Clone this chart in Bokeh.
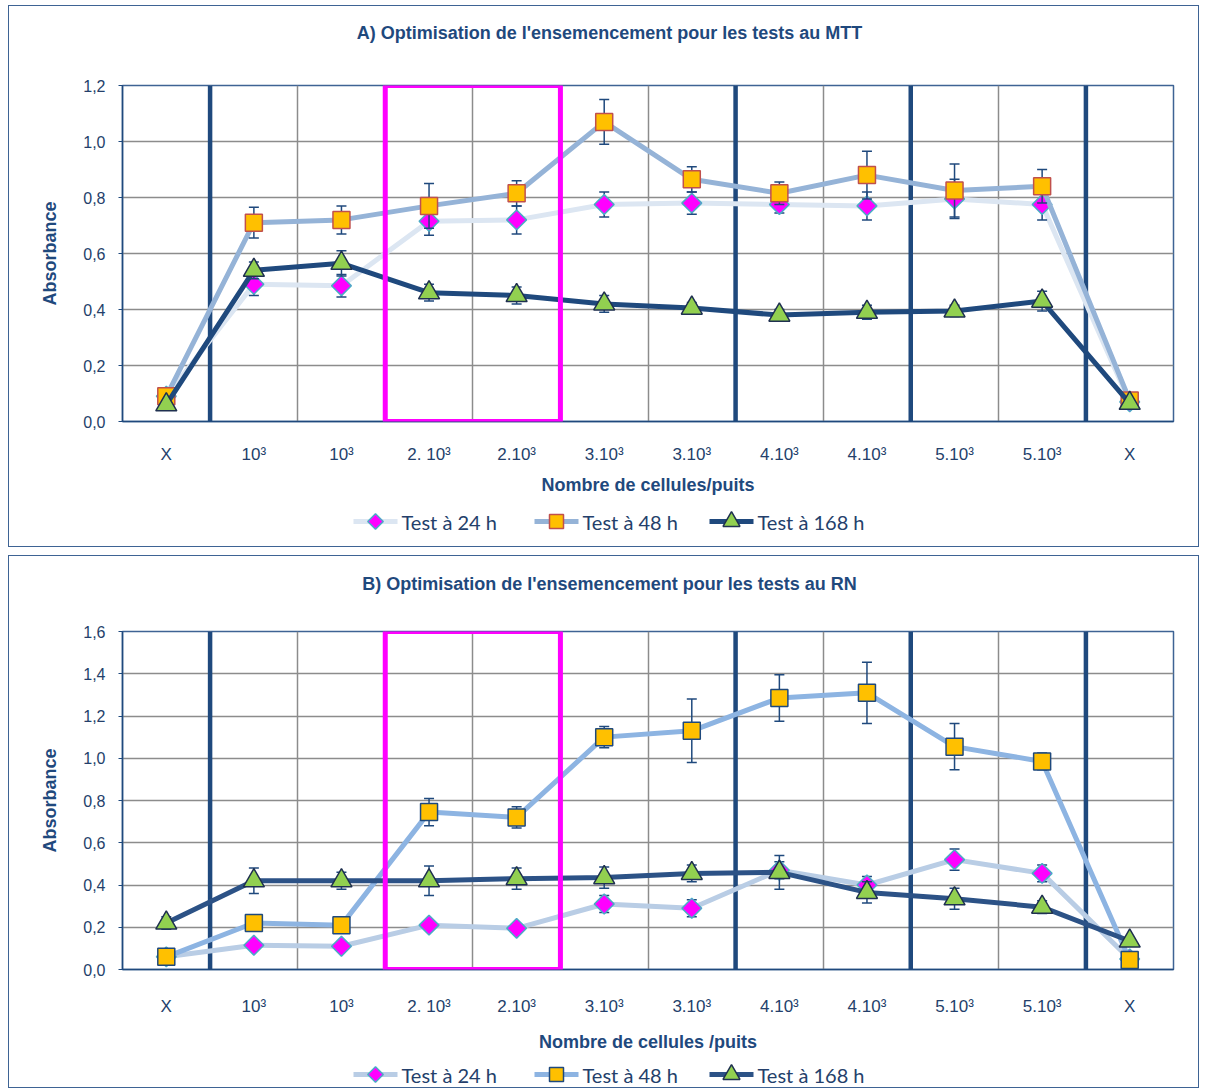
import math
from bokeh.plotting import figure
from bokeh.layouts import column, row
from bokeh.models import Range1d, FixedTicker, Whisker, BoxAnnotation, ColumnDataSource, Spacer
from bokeh.core.properties import value
from bokeh.embed import file_html
from bokeh.resources import INLINE

# ---------------- data ----------------
categories = ["X", "10³", "10³", "2. 10³", "2.10³", "3.10³", "3.10³",
              "4.10³", "4.10³", "5.10³", "5.10³", "X"]
series_names = ["Test à 24 h", "Test à 48 h", "Test à 168 h"]

# A) MTT
mtt_24 = [0.09, 0.49, 0.485, 0.715, 0.72, 0.775, 0.78, 0.775, 0.77, 0.795, 0.775, 0.07]
mtt_24_err = [0.0, 0.04, 0.04, 0.05, 0.05, 0.045, 0.04, 0.03, 0.05, 0.07, 0.055, 0.0]
mtt_48 = [0.09, 0.71, 0.72, 0.77, 0.815, 1.07, 0.865, 0.815, 0.88, 0.825, 0.84, 0.075]
mtt_48_err = [0.0, 0.055, 0.05, 0.08, 0.045, 0.08, 0.045, 0.04, 0.085, 0.095, 0.06, 0.0]
mtt_168 = [0.06, 0.54, 0.565, 0.46, 0.45, 0.42, 0.405, 0.38, 0.39, 0.395, 0.43, 0.065]
mtt_168_err = [0.0, 0.03, 0.045, 0.03, 0.03, 0.03, 0.02, 0.02, 0.025, 0.02, 0.035, 0.0]

# B) RN
rn_24 = [0.06, 0.115, 0.11, 0.21, 0.195, 0.31, 0.29, 0.47, 0.40, 0.52, 0.455, 0.05]
rn_24_err = [0.0, 0.0, 0.0, 0.0, 0.0, 0.04, 0.04, 0.04, 0.04, 0.05, 0.04, 0.0]
rn_48 = [0.06, 0.22, 0.21, 0.745, 0.72, 1.10, 1.13, 1.285, 1.31, 1.055, 0.985, 0.045]
rn_48_err = [0.0, 0.0, 0.0, 0.065, 0.05, 0.05, 0.15, 0.11, 0.145, 0.11, 0.04, 0.0]
rn_168 = [0.22, 0.42, 0.42, 0.42, 0.43, 0.435, 0.455, 0.46, 0.365, 0.335, 0.295, 0.135]
rn_168_err = [0.03, 0.06, 0.04, 0.07, 0.05, 0.05, 0.04, 0.08, 0.05, 0.05, 0.03, 0.0]

separators = [1, 7, 9, 11]      # category boundaries drawn as thick lines
highlight = (3, 5)              # boxed categories

NAVY = "#1F497D"
TEXT = "#243F6B"
FONT = "Liberation Sans"
W = 1189
FRAME_X = (121, 1172)           # page x-span of the aligned plot frames


def blank(height):
    f = figure(width=W, height=height, output_backend="svg", toolbar_location=None,
               x_range=Range1d(*FRAME_X), y_range=Range1d(0, height), tools="",
               min_border=0, min_border_left=0, min_border_right=0,
               min_border_top=0, min_border_bottom=0)
    f.axis.visible = False
    f.grid.visible = False
    f.outline_line_color = None
    return f


def header(title, height, center_from_top):
    f = blank(height)
    f.text(x=[608], y=[height - center_from_top], text=[title], text_align="center",
           text_baseline="middle", text_font=value(FONT), text_font_style="bold",
           text_font_size="18px", text_color=NAVY)
    return f


def legend_fig(height, center_from_top, styles):
    f = blank(height)
    yc = height - center_from_top
    starts = [352, 533, 708]          # left end of each legend sample line (layout)
    for k in range(3):
        x0 = starts[k]
        f.line(x=[x0, x0 + 44], y=[yc, yc], line_width=5, line_color=styles[k][0])
        m = dict(styles[k][1])
        m["size"] = round(m["size"] * 0.8)
        f.scatter(x=[x0 + 22], y=[yc], **m)
        f.text(x=[x0 + 48], y=[yc], text=[series_names[k]], text_align="left",
               text_baseline="middle", text_font=value("Lato"), text_font_size="20px",
               text_color=TEXT)
    return f


def main_fig(xlabel, y_max, y_step, vals, errs, height, min_top, min_bottom,
             tick_standoff, label_standoff, styles):
    p = figure(width=W, height=height, output_backend="svg", toolbar_location=None,
               min_border_left=113, min_border_right=25, min_border_top=min_top,
               min_border_bottom=min_bottom, x_range=Range1d(0, 12),
               y_range=Range1d(0, y_max), tools="")
    p.outline_line_color = "#3E6394"
    p.outline_line_width = 1.5

    centers = [i + 0.5 for i in range(len(categories))]
    p.xaxis.ticker = FixedTicker(ticks=centers)
    p.xaxis.major_label_overrides = {c: lab for c, lab in zip(centers, categories)}
    p.xaxis.major_tick_line_color = None
    p.xaxis.minor_tick_line_color = None
    p.xaxis.axis_line_color = NAVY
    p.xaxis.axis_line_width = 1.5
    p.xaxis.major_label_standoff = tick_standoff
    p.xaxis.major_label_text_font = FONT
    p.xaxis.major_label_text_font_size = "17px"
    p.xaxis.major_label_text_color = TEXT
    p.xaxis.axis_label = xlabel
    p.xaxis.axis_label_text_font = FONT
    p.xaxis.axis_label_text_font_style = "bold"
    p.xaxis.axis_label_text_font_size = "18px"
    p.xaxis.axis_label_text_color = NAVY
    p.xaxis.axis_label_standoff = label_standoff

    yt = [round(i * y_step, 2) for i in range(int(round(y_max / y_step)) + 1)]
    p.yaxis.ticker = FixedTicker(ticks=yt)
    p.yaxis.major_label_overrides = {t: f"{t:.1f}".replace(".", ",") for t in yt}
    p.yaxis.major_tick_out = 4
    p.yaxis.major_tick_in = 0
    p.yaxis.minor_tick_line_color = None
    p.yaxis.major_tick_line_color = NAVY
    p.yaxis.axis_line_color = NAVY
    p.yaxis.axis_line_width = 1.5
    p.yaxis.major_label_standoff = 13
    p.yaxis.major_label_text_font = FONT
    p.yaxis.major_label_text_font_size = "16px"
    p.yaxis.major_label_text_color = TEXT
    p.yaxis.axis_label = "Absorbance"
    p.yaxis.axis_label_text_font = FONT
    p.yaxis.axis_label_text_font_style = "bold"
    p.yaxis.axis_label_text_font_size = "18px"
    p.yaxis.axis_label_text_color = NAVY
    p.yaxis.axis_label_standoff = 20

    p.xgrid.ticker = FixedTicker(ticks=list(range(1, 12)))
    p.xgrid.grid_line_color = "#8C8C8C"
    p.xgrid.grid_line_width = 1.5
    p.ygrid.ticker = FixedTicker(ticks=yt[1:])
    p.ygrid.grid_line_color = "#8C8C8C"
    p.ygrid.grid_line_width = 1.5

    sep_src = ColumnDataSource(dict(base=separators, lower=[0] * len(separators),
                                    upper=[y_max] * len(separators)))
    p.add_layout(Whisker(source=sep_src, base="base", lower="lower", upper="upper",
                         dimension="height", line_color=NAVY, line_width=4.5,
                         lower_head=None, upper_head=None, level="underlay"))

    p.add_layout(BoxAnnotation(left=highlight[0], right=highlight[1], bottom=0, top=y_max,
                               fill_alpha=0, line_color="#FF00FF", line_alpha=1.0,
                               line_width=5, level="overlay"))

    for k in range(3):
        v, e = vals[k], errs[k]
        src = ColumnDataSource(dict(x=centers, y=v))
        ex = [c for c, d in zip(centers, e) if d > 0]
        elo = [a - d for a, d in zip(v, e) if d > 0]
        ehi = [a + d for a, d in zip(v, e) if d > 0]
        esrc = ColumnDataSource(dict(x=ex, lo=elo, hi=ehi))
        p.line("x", "y", source=src, line_color=styles[k][0], line_width=5)
        p.segment(x0="x", y0="lo", x1="x", y1="hi", source=esrc,
                  line_color=NAVY, line_width=1.5)
        p.scatter("x", "lo", source=esrc, marker="dash", size=10,
                  line_color=NAVY, line_width=1.5)
        p.scatter("x", "hi", source=esrc, marker="dash", size=10,
                  line_color=NAVY, line_width=1.5)
        p.scatter("x", "y", source=src, **styles[k][1])
    return p


def series_styles(line_colors, square_line):
    return [
        (line_colors[0], dict(marker="square", size=14, angle=math.pi / 4,
                              fill_color="#FF00FF", line_color="#4BACC6", line_width=1.5)),
        (line_colors[1], dict(marker="square", size=17, angle=0, fill_color="#FFC000",
                              line_color=square_line, line_width=1.5)),
        (line_colors[2], dict(marker="triangle", size=21, angle=0, fill_color="#92D050",
                              line_color="#1F3050", line_width=1.5)),
    ]


BORDER = {"border": "1.5px solid #3E6394"}

st_a = series_styles(["#DCE6F2", "#95B3D7", "#1F497D"], "#C0504D")
panel_a = column(
    header("A) Optimisation de l'ensemencement pour les tests au MTT", 40, 26),
    main_fig("Nombre de cellules/puits", 1.2, 0.2,
             [mtt_24, mtt_48, mtt_168], [mtt_24_err, mtt_48_err, mtt_168_err],
             height=456, min_top=39, min_bottom=81, tick_standoff=17, label_standoff=8,
             styles=st_a),
    legend_fig(44, 19, st_a),
    styles=BORDER)

st_b = series_styles(["#B9CDE5", "#8DB4E2", "#2C5286"], "#1F497D")
panel_b = column(
    header("B) Optimisation de l'ensemencement pour les tests au RN", 45, 27),
    main_fig("Nombre de cellules /puits", 1.6, 0.2,
             [rn_24, rn_48, rn_168], [rn_24_err, rn_48_err, rn_168_err],
             height=455, min_top=30, min_bottom=87, tick_standoff=21, label_standoff=13,
             styles=st_b),
    legend_fig(31, 18, st_b),
    styles=BORDER)

layout = column(Spacer(height=5),
                row(Spacer(width=8), panel_a),
                Spacer(height=8),
                row(Spacer(width=8), panel_b))
open("out.html", "w").write(file_html(layout, INLINE))
